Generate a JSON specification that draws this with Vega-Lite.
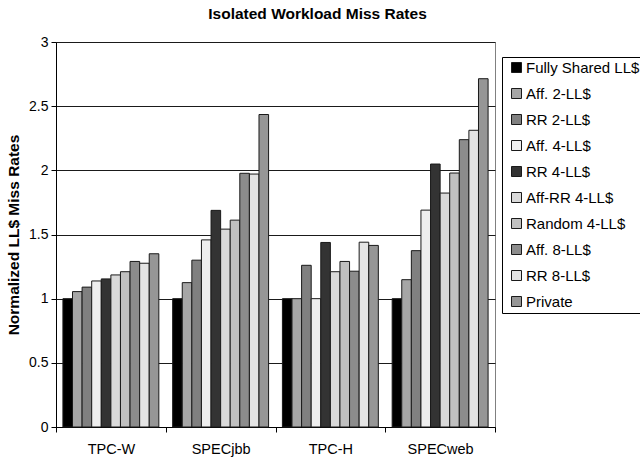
{
  "$schema": "https://vega.github.io/schema/vega-lite/v6.json",
  "width": 439,
  "height": 385,
  "autosize": "none",
  "padding": {"left": 56, "top": 42, "right": 145, "bottom": 36},
  "background": "white",
  "title": {
    "text": "Isolated Workload Miss Rates",
    "font": "Liberation Sans",
    "fontSize": 15.5,
    "fontWeight": "bold",
    "color": "black",
    "anchor": "middle",
    "dx": 42,
    "offset": 13
  },
  "config": {
    "view": {"stroke": "#808080", "strokeWidth": 1},
    "axis": {
      "labelFont": "Liberation Sans",
      "titleFont": "Liberation Sans",
      "labelColor": "black",
      "titleColor": "black",
      "domainColor": "black",
      "tickColor": "black",
      "tickSize": 5
    }
  },
  "data": {
    "values": [
      {"workload": "TPC-W", "config": "Fully Shared LL$", "rate": 1.0},
      {"workload": "TPC-W", "config": "Aff. 2-LL$", "rate": 1.055},
      {"workload": "TPC-W", "config": "RR 2-LL$", "rate": 1.09},
      {"workload": "TPC-W", "config": "Aff. 4-LL$", "rate": 1.138},
      {"workload": "TPC-W", "config": "RR 4-LL$", "rate": 1.154},
      {"workload": "TPC-W", "config": "Aff-RR 4-LL$", "rate": 1.185},
      {"workload": "TPC-W", "config": "Random 4-LL$", "rate": 1.21},
      {"workload": "TPC-W", "config": "Aff. 8-LL$", "rate": 1.29},
      {"workload": "TPC-W", "config": "RR 8-LL$", "rate": 1.276},
      {"workload": "TPC-W", "config": "Private", "rate": 1.35},
      {"workload": "SPECjbb", "config": "Fully Shared LL$", "rate": 1.0},
      {"workload": "SPECjbb", "config": "Aff. 2-LL$", "rate": 1.125},
      {"workload": "SPECjbb", "config": "RR 2-LL$", "rate": 1.3},
      {"workload": "SPECjbb", "config": "Aff. 4-LL$", "rate": 1.458},
      {"workload": "SPECjbb", "config": "RR 4-LL$", "rate": 1.688},
      {"workload": "SPECjbb", "config": "Aff-RR 4-LL$", "rate": 1.542},
      {"workload": "SPECjbb", "config": "Random 4-LL$", "rate": 1.612},
      {"workload": "SPECjbb", "config": "Aff. 8-LL$", "rate": 1.977},
      {"workload": "SPECjbb", "config": "RR 8-LL$", "rate": 1.971},
      {"workload": "SPECjbb", "config": "Private", "rate": 2.435},
      {"workload": "TPC-H", "config": "Fully Shared LL$", "rate": 1.0},
      {"workload": "TPC-H", "config": "Aff. 2-LL$", "rate": 1.0},
      {"workload": "TPC-H", "config": "RR 2-LL$", "rate": 1.26},
      {"workload": "TPC-H", "config": "Aff. 4-LL$", "rate": 1.0},
      {"workload": "TPC-H", "config": "RR 4-LL$", "rate": 1.438},
      {"workload": "TPC-H", "config": "Aff-RR 4-LL$", "rate": 1.21},
      {"workload": "TPC-H", "config": "Random 4-LL$", "rate": 1.29},
      {"workload": "TPC-H", "config": "Aff. 8-LL$", "rate": 1.214},
      {"workload": "TPC-H", "config": "RR 8-LL$", "rate": 1.44},
      {"workload": "TPC-H", "config": "Private", "rate": 1.415},
      {"workload": "SPECweb", "config": "Fully Shared LL$", "rate": 1.0},
      {"workload": "SPECweb", "config": "Aff. 2-LL$", "rate": 1.148},
      {"workload": "SPECweb", "config": "RR 2-LL$", "rate": 1.374},
      {"workload": "SPECweb", "config": "Aff. 4-LL$", "rate": 1.69},
      {"workload": "SPECweb", "config": "RR 4-LL$", "rate": 2.049},
      {"workload": "SPECweb", "config": "Aff-RR 4-LL$", "rate": 1.823},
      {"workload": "SPECweb", "config": "Random 4-LL$", "rate": 1.979},
      {"workload": "SPECweb", "config": "Aff. 8-LL$", "rate": 2.239},
      {"workload": "SPECweb", "config": "RR 8-LL$", "rate": 2.312},
      {"workload": "SPECweb", "config": "Private", "rate": 2.714}
    ]
  },
  "mark": {"type": "bar", "stroke": "#1a1a1a", "strokeWidth": 1},
  "encoding": {
    "x": {
      "field": "workload",
      "type": "nominal",
      "sort": ["TPC-W", "SPECjbb", "TPC-H", "SPECweb"],
      "scale": {"paddingInner": 0, "paddingOuter": 0},
      "axis": {
        "title": null,
        "labelAngle": 0,
        "tickBand": "extent",
        "labelFontSize": 14.5,
        "labelPadding": 10
      }
    },
    "xOffset": {
      "field": "config",
      "type": "nominal",
      "sort": ["Fully Shared LL$", "Aff. 2-LL$", "RR 2-LL$", "Aff. 4-LL$", "RR 4-LL$", "Aff-RR 4-LL$", "Random 4-LL$", "Aff. 8-LL$", "RR 8-LL$", "Private"],
      "scale": {"paddingInner": 0, "paddingOuter": 0.72}
    },
    "y": {
      "field": "rate",
      "type": "quantitative",
      "scale": {"domain": [0, 3], "nice": false},
      "axis": {
        "values": [0, 0.5, 1, 1.5, 2, 2.5, 3],
        "format": "~g",
        "grid": true,
        "gridColor": "#1a1a1a",
        "gridOpacity": 1,
        "labelFontSize": 14,
        "labelPadding": 3,
        "title": "Normalized LL$ Miss Rates",
        "titleFontSize": 15.5,
        "titleFontWeight": "bold",
        "titlePadding": 7
      }
    },
    "color": {
      "field": "config",
      "type": "nominal",
      "scale": {
        "domain": ["Fully Shared LL$", "Aff. 2-LL$", "RR 2-LL$", "Aff. 4-LL$", "RR 4-LL$", "Aff-RR 4-LL$", "Random 4-LL$", "Aff. 8-LL$", "RR 8-LL$", "Private"],
        "range": ["#000000", "#a6a6a6", "#808080", "#eeeeee", "#333333", "#d9d9d9", "#c0c0c0", "#8c8c8c", "#e4e4e4", "#969696"]
      },
      "legend": {
        "orient": "none",
        "legendX": 446,
        "legendY": 15,
        "title": null,
        "fillColor": "white",
        "strokeColor": "black",
        "padding": 3,
        "symbolType": "square",
        "symbolSize": 100,
        "symbolOffset": 4,
        "symbolStrokeColor": "#1a1a1a",
        "symbolStrokeWidth": 1,
        "symbolOpacity": 1,
        "labelFont": "Liberation Sans",
        "labelFontSize": 15,
        "labelColor": "black",
        "labelOffset": 2,
        "labelLimit": 300,
        "rowPadding": 10
      }
    }
  }
}
